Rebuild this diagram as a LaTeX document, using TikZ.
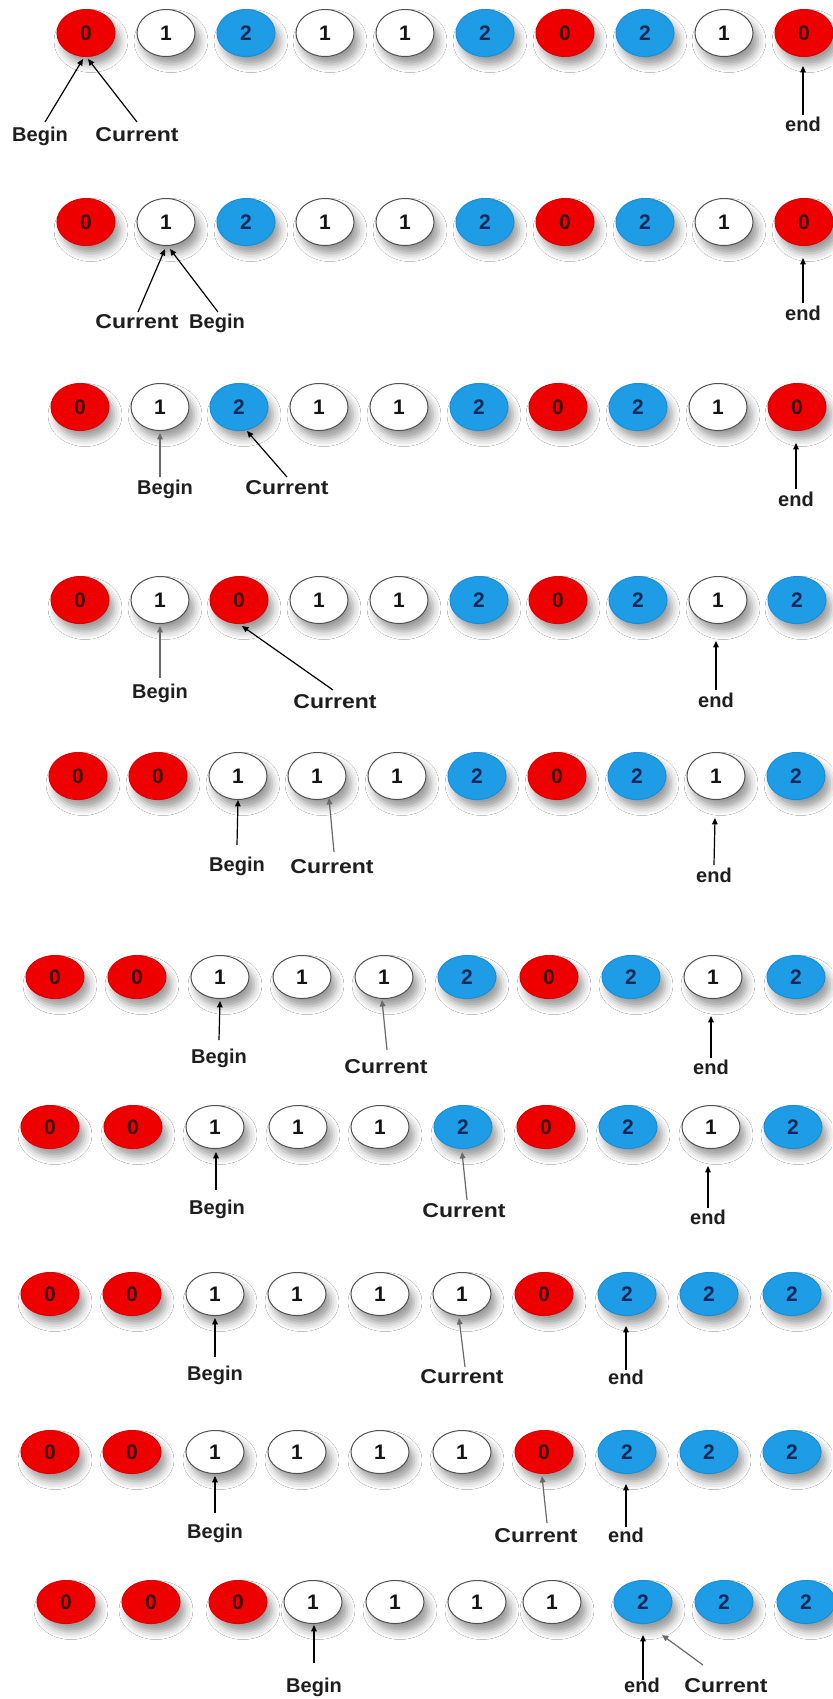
\documentclass[tikz,border=0pt]{standalone}
\usepackage{fontspec}
\setmainfont{Liberation Sans}
\usetikzlibrary{shapes.geometric,arrows.meta,shadows.blur}
\definecolor{fill0}{RGB}{238,0,0}
\definecolor{draw0}{RGB}{215,0,0}
\definecolor{dig0}{RGB}{60,10,10}
\definecolor{fill1}{RGB}{255,255,255}
\definecolor{draw1}{RGB}{80,80,80}
\definecolor{dig1}{RGB}{20,20,20}
\definecolor{fill2}{RGB}{30,157,230}
\definecolor{draw2}{RGB}{25,142,212}
\definecolor{dig2}{RGB}{15,40,85}
\definecolor{lblcol}{RGB}{30,30,30}
\definecolor{arrgray}{RGB}{105,105,105}
\newcommand\ballrow[4]{%
  \foreach \x/\v [count=\i] in {#4} {
    \node[ball=\v, minimum height=#3] (#1e\i) at (\x,#2) {\v};
  }}
\begin{document}
\begin{tikzpicture}[x=0.5pt,y=-0.5pt,
  ballbase/.style={ellipse, minimum width=29pt, minimum height=23.5pt, inner sep=0pt,
    font=\bfseries\fontsize{10.5}{12}\selectfont,
    blur shadow={shadow xshift=2.5pt, shadow yshift=-4pt, shadow blur radius=4pt, shadow opacity=40}},
  ball/.style={ballbase, fill=fill#1, draw=draw#1, line width=0.5pt, text=dig#1},
  lbl/.style={font=\bfseries\fontsize{10}{12}\selectfont, text=lblcol, inner sep=0pt, anchor=mid},
  arrk/.style={draw=black, line width=0.6pt, -{Triangle[length=3.2pt,width=2.8pt]}},
  arrg/.style={draw=arrgray, line width=0.6pt, -{Triangle[length=3.2pt,width=2.8pt]}}]
\fill[white] (0,0) rectangle (832,1699);
\useasboundingbox (0,0) rectangle (832,1699);

% ---------------- rows of balls ----------------
\ballrow{a}{33}{23.5pt}{86/0,166/1,246/2,325/1,405/1,485/2,565/0,645/2,724/1,804/0}
\ballrow{b}{222}{23.5pt}{86/0,166/1,246/2,325/1,405/1,485/2,565/0,645/2,724/1,804/0}
\ballrow{c}{407}{23.5pt}{80/0,160/1,239/2,319/1,399/1,479/2,558/0,638/2,718/1,797/0}
\ballrow{d}{600}{23.5pt}{80/0,160/1,239/0,319/1,399/1,479/2,558/0,638/2,718/1,797/2}
\ballrow{e}{776}{23.5pt}{78/0,158/0,238/1,317/1,397/1,477/2,557/0,637/2,716/1,796/2}
\ballrow{f}{977}{21.5pt}{55/0,137/0,220/1,302/1,384/1,467/2,549/0,631/2,713/1,796/2}
\ballrow{g}{1127}{21.5pt}{50/0,133/0,215/1,298/1,380/1,463/2,546/0,628/2,711/1,793/2}
\ballrow{h}{1294}{21.5pt}{50/0,132/0,215/1,297/1,380/1,462/1,544/0,627/2,709/2,792/2}
\ballrow{i}{1452}{21.5pt}{50/0,132/0,215/1,297/1,380/1,462/1,544/0,627/2,709/2,792/2}
\ballrow{j}{1602}{21.5pt}{66/0,151/0,238/0,313/1,395/1,477/1,552/1,643/2,724/2,806/2}

% ---------------- row 1 ----------------
\node[lbl] (aB) at (40,136) {Begin};
\node[lbl] (aC) at (137,136) {\scalebox{1.15}[1]{Current}};
\node[lbl] (aE) at (803,126) {end};
\coordinate (aBt) at (45,122);
\coordinate (aCt) at (137,122);
\coordinate (aEt) at (803,115);
\draw[arrk] (aBt) -- ([shift={(-3,2)}]ae1.south);
\draw[arrk] (aCt) -- ([shift={(2,2)}]ae1.south);
\draw[arrk] (aEt) -- ([shift={(-1,9)}]ae10.south);

% ---------------- row 2 ----------------
\node[lbl] (bC) at (137,323) {\scalebox{1.15}[1]{Current}};
\node[lbl] (bB) at (217,323) {Begin};
\node[lbl] (bE) at (803,315) {end};
\coordinate (bCt) at (138,312);
\coordinate (bBt) at (218,312);
\coordinate (bEt) at (803,303);
\draw[arrk] (bCt) -- ([shift={(-1,3)}]be2.south);
\draw[arrk] (bBt) -- ([shift={(4,3)}]be2.south);
\draw[arrk] (bEt) -- ([shift={(-1,12)}]be10.south);

% ---------------- row 3 ----------------
\node[lbl] (cB) at (165,489) {Begin};
\node[lbl] (cC) at (287,489) {\scalebox{1.15}[1]{Current}};
\node[lbl] (cE) at (796,501) {end};
\coordinate (cBt) at (160,477);
\coordinate (cCt) at (287,477);
\coordinate (cEt) at (796,489);
\draw[arrg] (cBt) -- ([shift={(0,2)}]ce2.south);
\draw[arrk] (cCt) -- ([shift={(8,0)}]ce3.south);
\draw[arrk] (cEt) -- ([shift={(-1,12)}]ce10.south);

% ---------------- row 4 ----------------
\node[lbl] (dB) at (160,693) {Begin};
\node[lbl] (dC) at (335,703) {\scalebox{1.15}[1]{Current}};
\node[lbl] (dE) at (716,702) {end};
\coordinate (dBt) at (160,678);
\coordinate (dCt) at (333,690);
\coordinate (dEt) at (716,690);
\draw[arrg] (dBt) -- ([shift={(0,2)}]de2.south);
\draw[arrk] (dCt) -- ([shift={(3,2)}]de3.south);
\draw[arrk] (dEt) -- ([shift={(-2,17)}]de9.south);

% ---------------- row 5 ----------------
\node[lbl] (eB) at (237,866) {Begin};
\node[lbl] (eC) at (332,868) {\scalebox{1.15}[1]{Current}};
\node[lbl] (eE) at (714,877) {end};
\coordinate (eBt) at (237,845);
\coordinate (eCt) at (334,852);
\coordinate (eEt) at (714,865);
\draw[arrk] (eBt) -- ([shift={(0,0)}]ee3.south);
\draw[arrg] (eCt) -- ([shift={(12,-2)}]ee4.south);
\draw[arrk] (eEt) -- ([shift={(-1,18)}]ee9.south);

% ---------------- row 6 ----------------
\node[lbl] (fB) at (219,1058) {Begin};
\node[lbl] (fC) at (386,1068) {\scalebox{1.15}[1]{Current}};
\node[lbl] (fE) at (711,1069) {end};
\coordinate (fBt) at (219,1040);
\coordinate (fCt) at (387,1050);
\coordinate (fEt) at (711,1058);
\draw[arrk] (fBt) -- ([shift={(0,2)}]fe3.south);
\draw[arrg] (fCt) -- ([shift={(-2,1)}]fe5.south);
\draw[arrk] (fEt) -- ([shift={(-2,17)}]fe9.south);

% ---------------- row 7 ----------------
\node[lbl] (gB) at (217,1209) {Begin};
\node[lbl] (gC) at (464,1212) {\scalebox{1.15}[1]{Current}};
\node[lbl] (gE) at (708,1219) {end};
\coordinate (gBt) at (216,1190);
\coordinate (gCt) at (467,1200);
\coordinate (gEt) at (708,1208);
\draw[arrk] (gBt) -- ([shift={(1,3)}]ge3.south);
\draw[arrg] (gCt) -- ([shift={(-1,3)}]ge6.south);
\draw[arrk] (gEt) -- ([shift={(-3,17)}]ge9.south);

% ---------------- row 8 ----------------
\node[lbl] (hB) at (215,1375) {Begin};
\node[lbl] (hC) at (462,1378) {\scalebox{1.15}[1]{Current}};
\node[lbl] (hE) at (626,1379) {end};
\coordinate (hBt) at (215,1357);
\coordinate (hCt) at (465,1367);
\coordinate (hEt) at (626,1370);
\draw[arrk] (hBt) -- ([shift={(0,2)}]he3.south);
\draw[arrg] (hCt) -- ([shift={(-3,2)}]he6.south);
\draw[arrk] (hEt) -- ([shift={(-1,10)}]he8.south);

% ---------------- row 9 ----------------
\node[lbl] (iB) at (215,1533) {Begin};
\node[lbl] (iC) at (536,1537) {\scalebox{1.15}[1]{Current}};
\node[lbl] (iE) at (626,1537) {end};
\coordinate (iBt) at (215,1513);
\coordinate (iCt) at (547,1523);
\coordinate (iEt) at (626,1527);
\draw[arrk] (iBt) -- ([shift={(0,2)}]ie3.south);
\draw[arrg] (iCt) -- ([shift={(-2,2)}]ie7.south);
\draw[arrk] (iEt) -- ([shift={(-1,10)}]ie8.south);

% ---------------- row 10 ----------------
\node[lbl] (jB) at (314,1687) {Begin};
\node[lbl] (jE) at (642,1687) {end};
\node[lbl] (jC) at (726,1687) {\scalebox{1.15}[1]{Current}};
\coordinate (jBt) at (314,1663);
\coordinate (jEt) at (643,1680);
\coordinate (jCt) at (703,1665);
\draw[arrk] (jBt) -- ([shift={(1,1)}]je4.south);
\draw[arrk] (jEt) -- ([shift={(0,11)}]je8.south);
\draw[arrg] (jCt) -- ([shift={(19,11)}]je8.south);
\end{tikzpicture}
\end{document}
